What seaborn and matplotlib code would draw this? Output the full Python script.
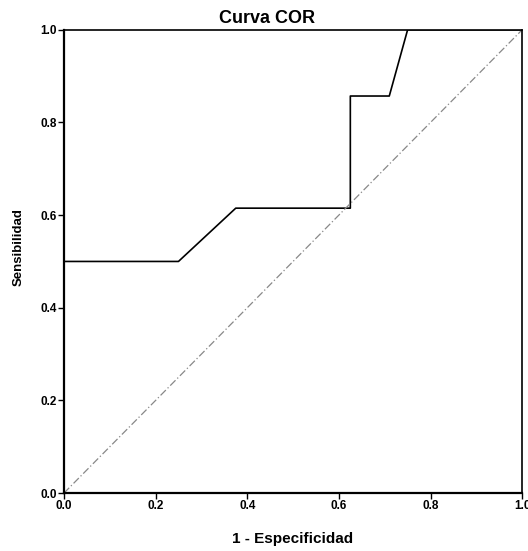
import matplotlib
matplotlib.use("Agg")
import matplotlib.pyplot as plt
import seaborn as sns
import pandas as pd

fpr = [0.0, 0.0, 0.25, 0.375, 0.625, 0.625, 0.71, 0.75, 1.0]
tpr = [0.0, 0.5, 0.5, 0.615, 0.615, 0.857, 0.857, 1.0, 1.0]
ref = [0.0, 1.0]
ticks = [0.0, 0.2, 0.4, 0.6, 0.8, 1.0]

sns.set_style("white")
plt.rcParams['font.family'] = ['Liberation Sans', 'DejaVu Sans']
plt.rcParams.update({"text.color": "black", "axes.labelcolor": "black",
                     "xtick.color": "black", "ytick.color": "black"})

fig = plt.figure(figsize=(5.28, 5.51), dpi=100)
ax = fig.add_axes([0.121, 0.105, 0.868, 0.841])

df = pd.DataFrame({"x": fpr, "y": tpr})
sns.lineplot(data=df, x="x", y="y", sort=False, estimator=None, color="black", linewidth=1.2, ax=ax)
dref = pd.DataFrame({"x": ref, "y": ref})
sns.lineplot(data=dref, x="x", y="y", sort=False, estimator=None, color="#888888",
             linewidth=0.9, linestyle=(0, (6, 2, 1, 2)), ax=ax)

ax.set_xlim(0, 1)
ax.set_ylim(0, 1)
ax.set_xticks(ticks)
ax.set_yticks(ticks)
ax.set_xticklabels([f"{t:.1f}" for t in ticks], fontsize=8.5, fontweight="bold")
ax.set_yticklabels([f"{t:.1f}" for t in ticks], fontsize=8.5, fontweight="bold")
ax.tick_params(axis="both", direction="out", length=4, width=1, color="black", pad=1,
               bottom=True, left=True, top=False, right=False)
for s in ax.spines.values():
    s.set_visible(True)
    s.set_color("black")
ax.spines["left"].set_linewidth(1.6)
ax.spines["bottom"].set_linewidth(1.6)
ax.spines["top"].set_linewidth(1.2)
ax.spines["right"].set_linewidth(1.2)

ax.set_xlabel("1 - Especificidad", fontsize=11, fontweight="bold")
ax.set_ylabel("Sensibilidad", fontsize=9.5, fontweight="bold")
ax.xaxis.set_label_coords(0.5, -0.083)
ax.yaxis.set_label_coords(-0.085, 0.53)
fig.text(267 / 528, 1 - 18.5 / 551, "Curva COR", fontsize=13, fontweight="bold",
         ha="center", va="center")

fig.savefig("out.png", dpi=100)
